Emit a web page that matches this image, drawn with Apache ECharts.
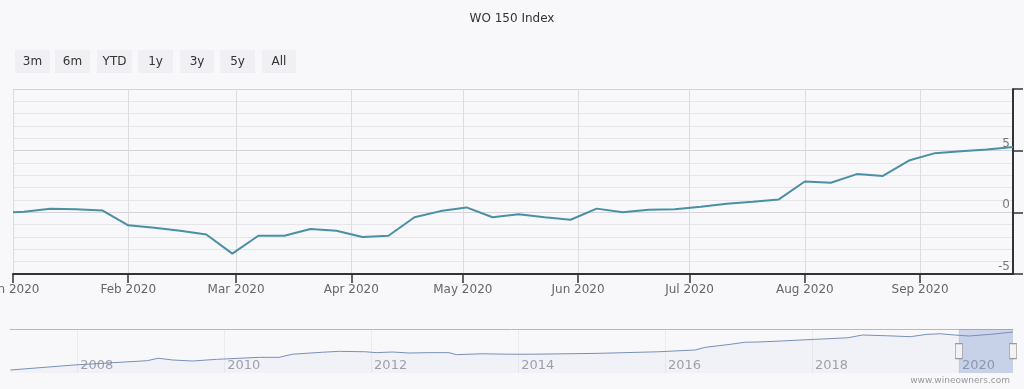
<!DOCTYPE html>
<html>
<head>
<meta charset="utf-8">
<script src="https://cdn.jsdelivr.net/npm/echarts@6/dist/echarts.min.js"></script>
<style>
html,body{margin:0;padding:0;background:#f8f8fb;}
#chart{width:1024px;height:389px;}
</style>
</head>
<body>
<div id="chart"></div>
<script>
// ---- data ----
const titleText = 'WO 150 Index';
const rangeButtons = ['3m', '6m', 'YTD', '1y', '3y', '5y', 'All'];
const dates = ['2020-01-01','2020-01-04','2020-01-11','2020-01-18','2020-01-25','2020-02-01','2020-02-08','2020-02-15','2020-02-22','2020-02-29','2020-03-07','2020-03-14','2020-03-21','2020-03-28','2020-04-04','2020-04-11','2020-04-18','2020-04-25','2020-05-02','2020-05-09','2020-05-16','2020-05-23','2020-05-30','2020-06-06','2020-06-13','2020-06-20','2020-06-27','2020-07-04','2020-07-11','2020-07-18','2020-07-25','2020-08-01','2020-08-08','2020-08-15','2020-08-22','2020-08-29','2020-09-05','2020-09-12','2020-09-19','2020-09-26'];
const values = [0.0,0.05,0.3,0.25,0.15,-1.05,-1.25,-1.5,-1.8,-3.35,-1.9,-1.9,-1.35,-1.5,-2.0,-1.9,-0.4,0.1,0.4,-0.4,-0.15,-0.4,-0.6,0.3,0.0,0.2,0.25,0.45,0.7,0.85,1.05,2.5,2.4,3.1,2.95,4.2,4.8,4.95,5.1,5.3];
const monthTicks = ['2020-01-01','2020-02-01','2020-03-01','2020-04-01','2020-05-01','2020-06-01','2020-07-01','2020-08-01','2020-09-01'];
const yTicks = [-5, 0, 5];
const navDates = ['2007-02-03','2007-12-15','2008-12-15','2009-02-06','2009-04-20','2009-07-27','2009-11-24','2010-06-25','2010-10-01','2010-12-05','2011-05-05','2011-07-27','2011-12-05','2012-01-26','2012-04-16','2012-07-08','2012-10-15','2013-01-22','2013-02-28','2013-07-05','2013-11-17','2014-03-10','2015-02-06','2015-11-28','2016-05-30','2016-07-19','2016-11-24','2017-02-03','2017-04-08','2017-07-31','2018-01-15','2018-06-28','2018-09-09','2019-01-11','2019-05-05','2019-07-27','2019-10-01','2019-12-10','2020-02-21','2020-06-05','2020-09-26'];
const navValues = [100,122.5,142,153,145,140.5,148,157,157,171,180,184,182,178,181,176.5,178,178,169,173,171,171,175,182,190,202,216,225,226,230.5,238,245,257.5,254,250,260.5,263,257.5,253,260.5,271];
const navYearTicks = ['2008-01-01','2010-01-01','2012-01-01','2014-01-01','2016-01-01','2018-01-01','2020-01-01'];
const selection = ['2020-01-01','2020-09-26'];
const creditText = 'www.wineowners.com';

// ---- helpers ----
function ts(s){ const p = s.split('-').map(Number); return new Date(p[0], p[1]-1, p[2]).getTime(); }
const MONTHS = ['Jan','Feb','Mar','Apr','May','Jun','Jul','Aug','Sep','Oct','Nov','Dec'];
const FONT = 'DejaVu Sans';

const mainData = dates.map((d,i)=>[ts(d), values[i]]);
const navData = navDates.map((d,i)=>[ts(d), navValues[i]]);
const monthTickTs = monthTicks.map(ts);
const yearTickTs = navYearTicks.map(ts);

// range selector buttons (UI)
const btnRects = [[15,35],[55,35],[97,35],[138,35],[180,34],[220,35],[262,34]];
const graphics = [];
rangeButtons.forEach((b,i)=>{
  const r = btnRects[i];
  graphics.push({type:'rect', shape:{x:r[0], y:50, width:r[1], height:23}, style:{fill:'#f0f0f4'}, silent:true});
  graphics.push({type:'text', x:r[0]+r[1]/2, y:61.5, style:{text:b, fill:'#333', font:'12px "DejaVu Sans"', textAlign:'center', textVerticalAlign:'middle'}, silent:true});
});
graphics.push({type:'text', right:14, top:376, style:{text:creditText, fill:'#999', font:'9px "DejaVu Sans"', textAlign:'right'}, silent:true});

const navMin = ts('2007-02-01'), navMax = ts('2020-09-26');

const option = {
  backgroundColor: '#f8f8fb',
  animation: false,
  textStyle: {fontFamily: FONT},
  title: {text: titleText, left: 'center', top: 8, textStyle: {fontFamily: FONT, fontSize: 12, fontWeight: 'normal', color: '#333'}},
  graphic: graphics,
  grid: [
    {left: 13, right: 11, top: 89, height: 185, containLabel: false, outerBoundsMode: 'none'},
    {left: 10, right: 11, top: 329, height: 44, containLabel: false, outerBoundsMode: 'none'}
  ],
  xAxis: [
    {
      type: 'value', gridIndex: 0, scale: true,
      min: ts('2020-01-01'), max: ts('2020-09-26'),
      axisLine: {show: true, onZero: false, lineStyle: {color: '#333', width: 2}},
      axisTick: {show: true, length: 9, lineStyle: {color: '#333', width: 1.5}, customValues: monthTickTs},
      axisLabel: {customValues: monthTickTs, color: '#666', fontSize: 12, fontFamily: FONT, margin: 10, hideOverlap: false,
        showMinLabel: true, showMaxLabel: true,
        formatter: function(v){ const d = new Date(v); return MONTHS[d.getMonth()] + ' ' + d.getFullYear(); }},
      splitLine: {show: true, lineStyle: {color: '#dcdce0', width: 1}}
    },
    {
      type: 'value', gridIndex: 1, scale: true, min: navMin, max: navMax,
      axisLine: {show: false, onZero: false},
      axisTick: {show: false, customValues: yearTickTs},
      axisLabel: {customValues: yearTickTs, inside: true, align: 'left', margin: 1, padding: [0,0,0,3], color: '#a0a0a8', fontSize: 13, fontFamily: FONT,
        formatter: function(v){ return String(new Date(v).getFullYear()); }},
      splitLine: {show: true, lineStyle: {color: '#ececf0', width: 1}}
    },
    {
      type: 'value', gridIndex: 1, scale: true, min: navMin, max: navMax, position: 'top',
      axisLine: {show: true, onZero: false, lineStyle: {color: '#b8b8bc', width: 1}},
      axisTick: {show: false}, axisLabel: {show: false}, splitLine: {show: false}
    }
  ],
  yAxis: [
    {
      type: 'value', gridIndex: 0, position: 'right',
      min: -5, max: 10, interval: 5,
      axisLine: {show: true, lineStyle: {color: '#333', width: 2}},
      axisTick: {show: true, length: 10, lineStyle: {color: '#333', width: 1.5}},
      axisLabel: {inside: true, margin: 3, color: '#777', fontSize: 12, fontFamily: FONT, verticalAlign: 'bottom', padding: [0,0,1,0],
        customValues: yTicks, formatter: function(v){ return String(v); }},
      splitLine: {show: true, lineStyle: {color: '#d4d4d8', width: 1}},
      minorTick: {show: false, splitNumber: 5},
      minorSplitLine: {show: true, lineStyle: {color: '#e6e6ea', width: 1}}
    },
    {
      type: 'value', gridIndex: 1, min: 86.5, max: 284.5, show: false
    }
  ],
  series: [
    {
      type: 'line', xAxisIndex: 0, yAxisIndex: 0,
      data: mainData, showSymbol: false,
      lineStyle: {color: '#4a90a4', width: 2},
      itemStyle: {color: '#4a90a4'}
    },
    {
      type: 'line', xAxisIndex: 1, yAxisIndex: 1,
      data: navData, showSymbol: false,
      lineStyle: {color: '#7890b8', width: 1},
      areaStyle: {color: 'rgba(120,144,200,0.08)'},
      markArea: {silent: true, itemStyle: {color: 'rgba(102,133,194,0.3)'},
        data: [[{xAxis: ts(selection[0])}, {xAxis: ts(selection[1])}]]},
      markPoint: {silent: true, symbol: 'rect', symbolSize: [7, 15], label: {show: false},
        itemStyle: {color: '#f2f2f2', borderColor: '#999', borderWidth: 1},
        data: [{coord: [ts(selection[0]), 185]}, {coord: [ts(selection[1]), 185]}]}
    }
  ]
};

const chart = echarts.init(document.getElementById('chart'), null, {renderer: 'canvas'});
chart.setOption(option);
</script>
</body>
</html>
